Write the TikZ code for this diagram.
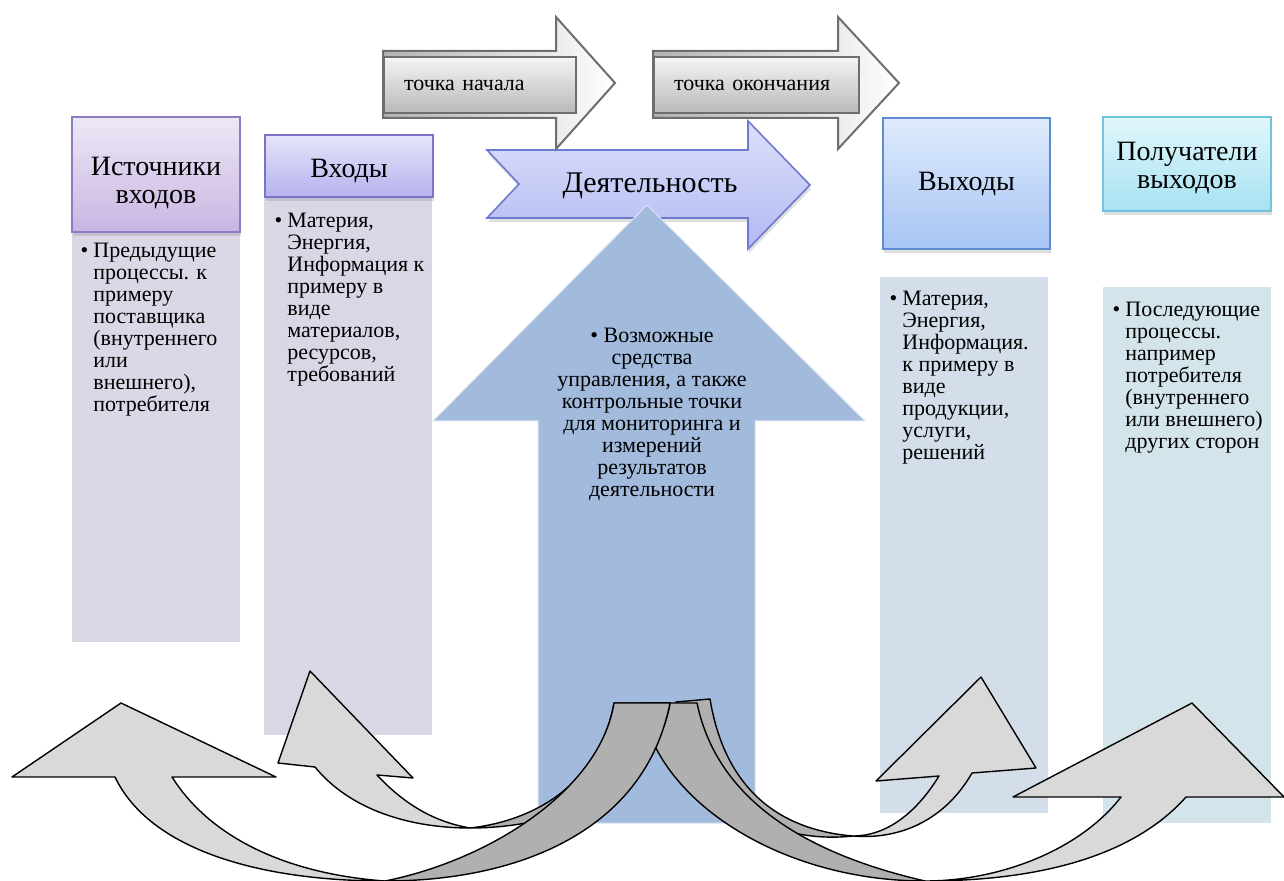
\documentclass[tikz,border=0pt]{standalone}
\usepackage{fontspec}
\setmainfont{Liberation Serif}
\usetikzlibrary{shadows}

\definecolor{srcTop}{HTML}{EEE8F6}
\definecolor{srcBot}{HTML}{C8B5E2}
\definecolor{srcLine}{HTML}{8E7CC3}
\definecolor{srcBody}{HTML}{DBD7E6}
\definecolor{inpTop}{HTML}{E5E5FA}
\definecolor{inpBot}{HTML}{B5B2EE}
\definecolor{inpLine}{HTML}{7A73C7}
\definecolor{inpBody}{HTML}{D8D7E6}
\definecolor{actTop}{HTML}{DDE0FB}
\definecolor{actBot}{HTML}{B2B9F2}
\definecolor{actLine}{HTML}{6E7ACF}
\definecolor{ctlFill}{HTML}{A2BBDC}
\definecolor{outTop}{HTML}{DFEBFC}
\definecolor{outBot}{HTML}{A7C4F4}
\definecolor{outLine}{HTML}{5E8ACF}
\definecolor{outBody}{HTML}{D3DEEA}
\definecolor{rcvTop}{HTML}{E2F7FC}
\definecolor{rcvBot}{HTML}{A6E2F2}
\definecolor{rcvLine}{HTML}{70C6DD}
\definecolor{rcvBody}{HTML}{D3E4EB}
\definecolor{ribLight}{HTML}{D9D9D9}
\definecolor{ribDark}{HTML}{B0B0B0}
\definecolor{tagLine}{HTML}{6E6E6E}

\newcommand{\bulitem}{\llap{\textbullet\hspace{2.5pt}}}

\tikzset{
  hdr/.style={draw, line width=0.8pt, inner sep=0pt,
    drop shadow={opacity=0.25, shadow xshift=0.5pt, shadow yshift=-2pt}},
  hdrtxt/.style={align=center, inner sep=0pt, font=\fontsize{14}{14}\selectfont},
  bodybox/.style={inner sep=0pt, minimum width=84pt},
  txt/.style={align=left, inner sep=0pt, font=\fontsize{11}{11}\selectfont},
  tagbox/.style={draw=tagLine, line width=1pt, top color=gray!8, bottom color=gray!55,
    align=left, inner xsep=10pt, inner ysep=0pt, minimum height=28pt,
    font=\fontsize{11}{11}\selectfont},
  tagarrow/.style={draw=tagLine, line width=1pt, left color=gray!60, right color=white},
  ribL/.style={fill=ribLight, draw=black, line width=0.7pt, line join=round},
  ribD/.style={fill=ribDark, draw=black, line width=0.7pt, line join=round},
}

\begin{document}
\begin{tikzpicture}[x=0.5pt, y=-0.5pt]
    \useasboundingbox (0,0) rectangle (1284,881);

    % Body columns
    \node[bodybox, fill=srcBody, minimum height=205pt] (srcbody) at (156,437) {};
    \node[bodybox, fill=inpBody, minimum height=269pt] (inpbody) at (348,466) {};
    \node[bodybox, fill=outBody, minimum height=268pt] (outbody) at (963.5,545) {};
    \node[bodybox, fill=rcvBody, minimum height=268pt] (rcvbody) at (1186.5,555) {};

    % Activity arrow
    \path[draw=actLine, line width=0.8pt, top color=actTop, bottom color=actBot,
      drop shadow={opacity=0.25, shadow xshift=0.5pt, shadow yshift=-2pt}]
      (487,150) -- (748,150) -- (748,121) -- (810,185) -- (748,249) -- (748,218)
      -- (487,218) -- (519,184) -- cycle;
    \node[font=\fontsize{15}{15}\selectfont, inner sep=0pt] (act) at (650,186) {Деятельность};

    % Start / end point arrows
    \path[tagarrow] (383,51) -- (556,51) -- (556,17) -- (615,83) -- (556,149)
      -- (556,118) -- (383,118) -- cycle;
    \node[tagbox, text width=76pt, anchor=west] (start) at (383,85) {точка начала};
    \path[tagarrow] (653,51) -- (838,51) -- (838,17) -- (899,83) -- (838,149)
      -- (838,118) -- (653,118) -- cycle;
    \node[tagbox, text width=82.5pt, anchor=west] (finish) at (653,85) {точка окончания};

    % Headers
    \node[hdr, draw=srcLine, top color=srcTop, bottom color=srcBot,
      minimum width=84pt, minimum height=57.5pt] (src) at (156,174.5) {};
    \node[hdr, draw=inpLine, top color=inpTop, bottom color=inpBot,
      minimum width=84pt, minimum height=31pt] (inp) at (349,166) {};
    \node[hdr, draw=outLine, top color=outTop, bottom color=outBot,
      minimum width=83.5pt, minimum height=65.5pt] (out) at (966.5,183.5) {};
    \node[hdr, draw=rcvLine, top color=rcvTop, bottom color=rcvBot,
      minimum width=84pt, minimum height=47pt] (rcv) at (1187,164) {};
    \node[hdrtxt] (srclbl) at ([yshift=-4.5pt]src.center) {Источники\\входов};
    \node[hdrtxt] (inplbl) at ([yshift=-2.5pt]inp.center) {Входы};
    \node[hdrtxt] (outlbl) at ([yshift=-0.5pt]out.center) {Выходы};
    \node[hdrtxt] (rcvlbl) at ([yshift=-2pt]rcv.center) {Получатели\\выходов};

    % Control arrow
    \path[fill=ctlFill, draw=white!60!ctlFill, line width=0.5pt] (647,205) -- (865,421)
      -- (755,421) -- (755,823) -- (538,823) -- (538,421) -- (433,421) -- cycle;

    % Curved arrows, right side
    \draw[ribD] (853,836) .. controls (780,830) and (725,790) .. (710,699) -- (676,702)
      .. controls (690,800) and (770,845) .. (853,836) -- cycle;
    \draw[ribL] (853,836) .. controls (885,836) and (915,815) .. (939,776) -- (876,781)
      -- (981,677) -- (1036,768) -- (972,773) .. controls (945,820) and (900,840) .. (853,836) -- cycle;
    \draw[ribD] (925,881) .. controls (780,881) and (655,800) .. (641,703) -- (697,703)
      .. controls (715,790) and (790,850) .. (925,881) -- cycle;
    \draw[ribL] (925,881) .. controls (1000,881) and (1080,850) .. (1121,797) -- (1013,797)
      -- (1192,703) -- (1284,797) -- (1186,797) .. controls (1130,860) and (1030,881) .. (925,881) -- cycle;

    % Curved arrows, left side
    \draw[ribD] (470,828) .. controls (540,820) and (600,780) .. (614,703) -- (670,703)
      .. controls (655,790) and (560,828) .. (470,828) -- cycle;
    \draw[ribL] (470,828) .. controls (410,828) and (350,810) .. (315,767) -- (278,763)
      -- (310,671) -- (413,778) -- (377,775) .. controls (405,805) and (435,822) .. (470,828) -- cycle;
    \draw[ribD] (385,881) .. controls (520,881) and (645,830) .. (670,703) -- (614,703)
      .. controls (600,790) and (490,860) .. (385,881) -- cycle;
    \draw[ribL] (385,881) .. controls (260,881) and (150,850) .. (115,777) -- (12,777)
      -- (121,703) -- (276,777) -- (172,777) .. controls (215,845) and (300,875) .. (385,881) -- cycle;

    % Column texts
    \node[txt, anchor=north west] (srctxt) at (93,243) {\bulitem Предыдущие\\процессы. к\\примеру\\поставщика\\(внутреннего\\или\\внешнего),\\потребителя};
    \node[txt, anchor=north west] (inptxt) at (287,213) {\bulitem Материя,\\Энергия,\\Информация к\\примеру в\\виде\\материалов,\\ресурсов,\\требований};
    \node[txt, anchor=north west] (outtxt) at (902,291) {\bulitem Материя,\\Энергия,\\Информация.\\к примеру в\\виде\\продукции,\\услуги,\\решений};
    \node[txt, anchor=north west] (rcvtxt) at (1125,302) {\bulitem Последующие\\процессы.\\например\\потребителя\\(внутреннего\\или внешнего)\\других сторон};
    \node[txt, align=center, anchor=north] (ctltxt) at (652,328) {\textbullet\ Возможные\\средства\\управления, а также\\контрольные точки\\для мониторинга и\\измерений\\результатов\\деятельности};
\end{tikzpicture}
\end{document}
